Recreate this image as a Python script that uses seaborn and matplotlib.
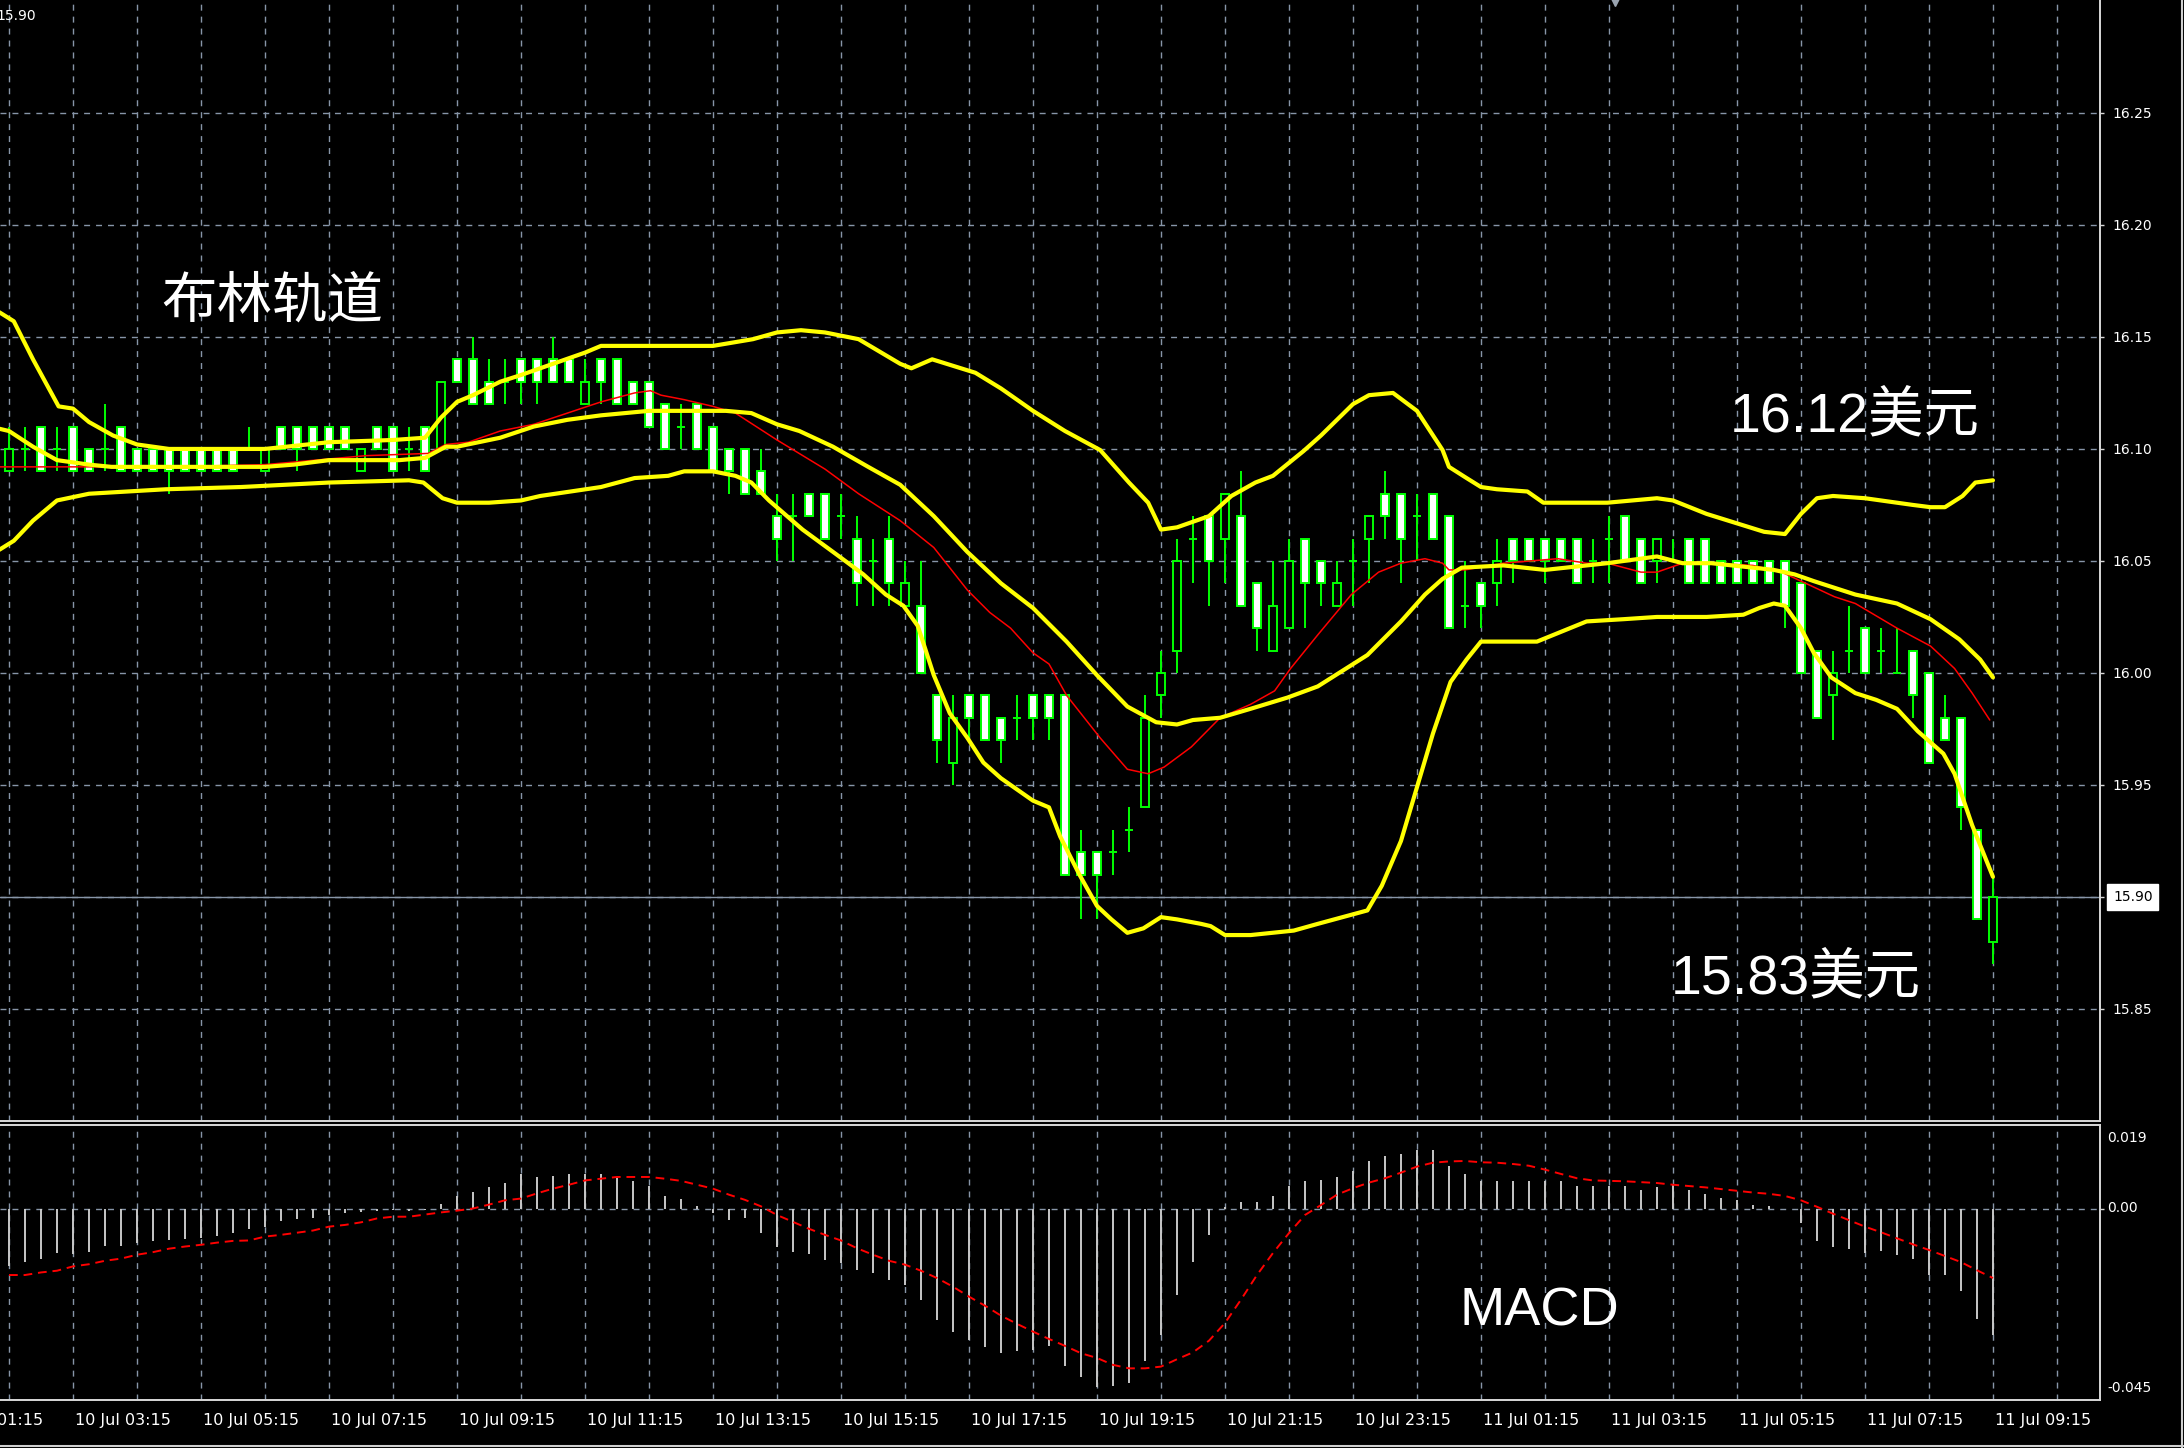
import numpy as np
import matplotlib
matplotlib.use("Agg")
import matplotlib.pyplot as plt
import matplotlib.transforms as mtransforms
from matplotlib.lines import Line2D
import seaborn as sns

sns.set_theme(style="dark", rc={"axes.facecolor": "black", "figure.facecolor": "black"})
plt.rcParams["font.family"] = ["DejaVu Sans"]

# XAGUSD M15 candles, 10 Jul 02:15 -> 11 Jul 09:15 (one entry per bar)
opens = [16.09, 16.10, 16.11, 16.10, 16.11, 16.10, 16.10, 16.11, 16.10, 16.10,
         16.10, 16.10, 16.10, 16.10, 16.10, 16.10, 16.09, 16.11, 16.11, 16.11,
         16.11, 16.11, 16.09, 16.11, 16.11, 16.10, 16.11, 16.10, 16.14, 16.14,
         16.13, 16.13, 16.14, 16.14, 16.14, 16.14, 16.12, 16.14, 16.14, 16.13,
         16.13, 16.12, 16.11, 16.12, 16.11, 16.10, 16.10, 16.09, 16.07, 16.07,
         16.08, 16.08, 16.07, 16.06, 16.05, 16.06, 16.03, 16.03, 15.99, 15.96,
         15.99, 15.99, 15.98, 15.98, 15.99, 15.99, 15.99, 15.92, 15.92, 15.92,
         15.93, 15.94, 15.99, 16.01, 16.06, 16.07, 16.06, 16.07, 16.04, 16.01,
         16.02, 16.06, 16.05, 16.03, 16.05, 16.06, 16.08, 16.08, 16.07, 16.08,
         16.07, 16.03, 16.04, 16.04, 16.06, 16.06, 16.06, 16.06, 16.06, 16.05,
         16.06, 16.07, 16.06, 16.05, 16.05, 16.06, 16.06, 16.05, 16.05, 16.05,
         16.05, 16.05, 16.04, 16.01, 15.99, 16.01, 16.02, 16.01, 16.00, 16.01,
         16.00, 15.98, 15.98, 15.93, 15.88]
highs = [16.11, 16.11, 16.11, 16.11, 16.11, 16.10, 16.12, 16.11, 16.10, 16.10,
         16.10, 16.10, 16.10, 16.10, 16.10, 16.11, 16.10, 16.11, 16.11, 16.11,
         16.11, 16.11, 16.10, 16.11, 16.11, 16.11, 16.11, 16.13, 16.14, 16.15,
         16.14, 16.14, 16.14, 16.14, 16.15, 16.14, 16.14, 16.14, 16.14, 16.13,
         16.13, 16.12, 16.12, 16.12, 16.11, 16.10, 16.10, 16.10, 16.08, 16.08,
         16.08, 16.08, 16.08, 16.07, 16.06, 16.07, 16.05, 16.05, 15.99, 15.99,
         15.99, 15.99, 15.98, 15.99, 15.99, 15.99, 15.99, 15.93, 15.92, 15.93,
         15.94, 15.99, 16.01, 16.06, 16.07, 16.07, 16.08, 16.09, 16.04, 16.05,
         16.06, 16.06, 16.05, 16.05, 16.06, 16.07, 16.09, 16.08, 16.08, 16.08,
         16.07, 16.05, 16.04, 16.06, 16.06, 16.06, 16.06, 16.06, 16.06, 16.06,
         16.07, 16.07, 16.06, 16.06, 16.06, 16.06, 16.06, 16.05, 16.05, 16.05,
         16.05, 16.05, 16.04, 16.01, 16.01, 16.03, 16.02, 16.02, 16.02, 16.01,
         16.00, 15.99, 15.98, 15.93, 15.91]
lows = [16.09, 16.09, 16.09, 16.09, 16.09, 16.09, 16.09, 16.09, 16.09, 16.09,
        16.08, 16.09, 16.09, 16.09, 16.09, 16.10, 16.09, 16.10, 16.09, 16.10,
        16.10, 16.10, 16.09, 16.10, 16.09, 16.09, 16.09, 16.10, 16.13, 16.12,
        16.12, 16.12, 16.12, 16.12, 16.13, 16.13, 16.12, 16.12, 16.12, 16.12,
        16.11, 16.10, 16.10, 16.10, 16.09, 16.08, 16.08, 16.08, 16.05, 16.05,
        16.07, 16.06, 16.06, 16.03, 16.03, 16.03, 16.03, 16.00, 15.96, 15.95,
        15.97, 15.97, 15.96, 15.97, 15.97, 15.97, 15.91, 15.89, 15.89, 15.91,
        15.92, 15.94, 15.98, 16.00, 16.04, 16.03, 16.04, 16.03, 16.01, 16.01,
        16.02, 16.02, 16.03, 16.03, 16.03, 16.04, 16.06, 16.04, 16.05, 16.06,
        16.02, 16.02, 16.02, 16.03, 16.04, 16.05, 16.04, 16.05, 16.04, 16.04,
        16.04, 16.05, 16.04, 16.04, 16.05, 16.04, 16.04, 16.04, 16.04, 16.04,
        16.04, 16.02, 16.00, 15.98, 15.97, 16.00, 16.00, 16.00, 16.00, 15.98,
        15.96, 15.97, 15.93, 15.89, 15.87]
closes = [16.10, 16.10, 16.09, 16.10, 16.09, 16.09, 16.10, 16.09, 16.09, 16.09,
          16.09, 16.09, 16.09, 16.09, 16.09, 16.10, 16.10, 16.10, 16.10, 16.10,
          16.10, 16.10, 16.10, 16.10, 16.09, 16.10, 16.09, 16.13, 16.13, 16.12,
          16.12, 16.13, 16.13, 16.13, 16.13, 16.13, 16.13, 16.13, 16.12, 16.12,
          16.11, 16.10, 16.11, 16.10, 16.09, 16.09, 16.08, 16.08, 16.06, 16.07,
          16.07, 16.06, 16.07, 16.04, 16.05, 16.04, 16.04, 16.00, 15.97, 15.98,
          15.98, 15.97, 15.97, 15.98, 15.98, 15.98, 15.91, 15.91, 15.91, 15.92,
          15.93, 15.98, 16.00, 16.05, 16.06, 16.05, 16.08, 16.03, 16.02, 16.03,
          16.05, 16.04, 16.04, 16.04, 16.05, 16.07, 16.07, 16.06, 16.07, 16.06,
          16.02, 16.03, 16.03, 16.05, 16.05, 16.05, 16.05, 16.05, 16.04, 16.05,
          16.06, 16.05, 16.04, 16.06, 16.05, 16.04, 16.04, 16.04, 16.04, 16.04,
          16.04, 16.03, 16.00, 15.98, 16.00, 16.01, 16.00, 16.01, 16.00, 15.99,
          15.96, 15.97, 15.94, 15.89, 15.90]

# Bollinger bands and red moving average, read as (bar, price)
bb_upper = [(-0.6, 16.161), (0.3, 16.157), (1.5, 16.140), (3.1, 16.119), (4, 16.118), (5, 16.112),
            (6.5, 16.106), (8, 16.102), (10, 16.100), (16, 16.100), (20, 16.103), (24, 16.104),
            (26, 16.105), (27, 16.114), (28, 16.121), (29, 16.124), (30.7, 16.130), (32, 16.133),
            (34, 16.138), (36, 16.143), (37, 16.146), (40, 16.146), (44, 16.146), (46.5, 16.149),
            (48, 16.152), (49.5, 16.153), (51, 16.152), (53.1, 16.149), (55.7, 16.138), (56.4, 16.136),
            (57.7, 16.140), (60.4, 16.134), (62, 16.127), (64, 16.117), (66, 16.108), (68.2, 16.0995),
            (70, 16.085), (71.2, 16.076), (72, 16.064), (73, 16.065), (75, 16.070), (76.4, 16.079),
            (77.9, 16.085), (79, 16.088), (80.9, 16.099), (82, 16.106), (83, 16.113), (84, 16.120),
            (85, 16.124), (86.5, 16.125), (88, 16.117), (89.6, 16.0995), (90, 16.092), (91.1, 16.087),
            (92, 16.083), (93, 16.082), (94.9, 16.081), (95.9, 16.076), (97, 16.076), (99.9, 16.076),
            (103, 16.078), (104, 16.077), (106.1, 16.071), (107.9, 16.067), (109.7, 16.063), (111, 16.062),
            (112, 16.071), (113, 16.078), (114, 16.079), (116, 16.078), (118, 16.076), (119, 16.075),
            (120.1, 16.074), (121, 16.074), (122.1, 16.079), (122.9, 16.085), (124, 16.086)]
bb_middle = [(-0.6, 16.109), (0, 16.108), (1.5, 16.101), (3, 16.095), (5, 16.093), (6.4, 16.092),
             (10, 16.092), (16, 16.092), (17.8, 16.093), (20, 16.095), (24.4, 16.095), (26, 16.096),
             (27.3, 16.101), (28, 16.101), (30.7, 16.105), (32.8, 16.110), (34.9, 16.113), (37, 16.115),
             (40, 16.117), (44.8, 16.117), (46.4, 16.116), (48, 16.111), (49.4, 16.108), (51.5, 16.101),
             (53.7, 16.092), (55.7, 16.084), (57.8, 16.070), (59.9, 16.054), (62, 16.040), (64, 16.029),
             (66.1, 16.014), (68, 15.999), (69.9, 15.985), (71.7, 15.978), (73, 15.977), (74, 15.979),
             (75.7, 15.980), (77.6, 15.984), (79.9, 15.989), (81.8, 15.994), (84.9, 16.008), (87, 16.023),
             (88.5, 16.035), (89.6, 16.042), (90.8, 16.047), (93.4, 16.048), (96, 16.046), (97.3, 16.047),
             (99.9, 16.049), (103, 16.052), (104.6, 16.049), (106.4, 16.049), (110.3, 16.046), (111.6, 16.044),
             (112.8, 16.041), (115.4, 16.035), (118, 16.031), (120.1, 16.024), (121.9, 16.015), (123.2, 16.006),
             (124, 15.998)]
bb_lower = [(-0.6, 16.055), (0.3, 16.059), (1.5, 16.068), (3, 16.077), (5, 16.080), (9.8, 16.082),
            (14.5, 16.083), (20, 16.085), (25, 16.086), (25.9, 16.085), (27.1, 16.078), (28, 16.076),
            (30, 16.076), (32, 16.077), (33.2, 16.079), (37, 16.083), (39.1, 16.087), (41.2, 16.088),
            (42.2, 16.090), (44, 16.090), (45.4, 16.088), (46.4, 16.085), (47.5, 16.077), (49.6, 16.064),
            (51.7, 16.053), (53.4, 16.044), (54.8, 16.035), (55.9, 16.030), (56.8, 16.021), (57.8, 15.999),
            (58.8, 15.982), (59.9, 15.971), (60.9, 15.960), (62, 15.953), (64, 15.943), (65, 15.940),
            (65.7, 15.927), (66.9, 15.910), (68, 15.896), (68.9, 15.890), (69.9, 15.884), (70.9, 15.886),
            (72, 15.891), (73, 15.890), (74.5, 15.888), (75.1, 15.887), (76, 15.883), (77.6, 15.883),
            (80.3, 15.885), (81.8, 15.888), (84.9, 15.894), (85.8, 15.905), (87, 15.925), (88, 15.949),
            (89, 15.973), (90.1, 15.996), (91.1, 16.006), (92, 16.014), (95.5, 16.014), (98.6, 16.023),
            (100.9, 16.024), (103, 16.025), (106.1, 16.025), (108.4, 16.026), (109.4, 16.029), (110.3, 16.031),
            (111, 16.030), (112, 16.020), (112.8, 16.009), (113.9, 15.998), (115.4, 15.991), (116.7, 15.988),
            (118, 15.984), (119.3, 15.974), (120.9, 15.964), (121.6, 15.955), (122.7, 15.932), (124, 15.909)]
ma_red = [(-0.6, 16.092), (5, 16.092), (10, 16.092), (16, 16.093), (22.3, 16.097), (26.2, 16.098),
          (27.3, 16.102), (28.7, 16.103), (30.7, 16.108), (32.8, 16.111), (34.9, 16.116), (37, 16.121),
          (39.1, 16.125), (40.1, 16.126), (40.75, 16.124), (42.2, 16.122), (44, 16.119), (45.4, 16.116),
          (48, 16.104), (51, 16.091), (53.1, 16.080), (55.7, 16.068), (57.8, 16.056), (59.9, 16.037),
          (61.3, 16.027), (62.6, 16.020), (64, 16.009), (65, 16.004), (66.1, 15.990), (68.2, 15.971),
          (69.9, 15.957), (71.2, 15.955), (72.2, 15.958), (73.9, 15.967), (75.7, 15.980), (77.6, 15.986),
          (79.1, 15.992), (80.1, 16.002), (81.8, 16.017), (83.9, 16.035), (85.6, 16.045), (87, 16.049),
          (88.5, 16.051), (89.6, 16.049), (90, 16.046), (91, 16.046), (93.4, 16.049), (96.8, 16.051),
          (98.6, 16.049), (99.9, 16.049), (102, 16.045), (103, 16.045), (104.6, 16.049), (106.4, 16.049),
          (109, 16.048), (110.8, 16.045), (112.3, 16.040), (114.1, 16.034), (115.4, 16.031), (118, 16.020),
          (120.1, 16.012), (121.6, 16.002), (122.7, 15.991), (123.8, 15.979)]

# MACD histogram and signal line, one value per bar
macd_hist = [-0.0134, -0.0123, -0.0117, -0.0103, -0.0105, -0.0100, -0.0086, -0.0086, -0.0080, -0.0076,
             -0.0073, -0.0071, -0.0069, -0.0063, -0.0057, -0.0048, -0.0043, -0.0030, -0.0025, -0.0021,
             -0.0015, -0.0011, -0.0007, -0.0005, -0.0003, -0.0005, -0.0003, 0.0011, 0.0029, 0.0039,
             0.0049, 0.0059, 0.0080, 0.0072, 0.0076, 0.0080, 0.0080, 0.0080, 0.0070, 0.0063,
             0.0051, 0.0029, 0.0022, 0.0006, -0.0011, -0.0026, -0.0022, -0.0057, -0.0088, -0.0100,
             -0.0105, -0.0119, -0.0127, -0.0142, -0.0150, -0.0165, -0.0177, -0.0211, -0.0258, -0.0285,
             -0.0304, -0.0321, -0.0335, -0.0331, -0.0327, -0.0318, -0.0364, -0.0390, -0.0414, -0.0412,
             -0.0403, -0.0354, -0.0292, -0.0200, -0.0123, -0.0061, 0.0003, 0.0016, 0.0016, 0.0029,
             0.0051, 0.0063, 0.0066, 0.0072, 0.0086, 0.0109, 0.0122, 0.0127, 0.0136, 0.0136,
             0.0099, 0.0080, 0.0063, 0.0063, 0.0063, 0.0063, 0.0063, 0.0063, 0.0052, 0.0052,
             0.0052, 0.0052, 0.0043, 0.0049, 0.0055, 0.0043, 0.0033, 0.0024, 0.0020, 0.0009,
             0.0005, -0.0001, -0.0033, -0.0076, -0.0090, -0.0093, -0.0103, -0.0099, -0.0108, -0.0117,
             -0.0153, -0.0154, -0.0191, -0.0255, -0.0293]
macd_signal = [-0.0154, -0.0154, -0.0148, -0.0144, -0.0134, -0.0129, -0.0121, -0.0116, -0.0107, -0.0101,
               -0.0093, -0.0088, -0.0084, -0.0079, -0.0075, -0.0074, -0.0065, -0.0061, -0.0056, -0.0051,
               -0.0042, -0.0038, -0.0032, -0.0023, -0.0019, -0.0019, -0.0014, -0.0009, -0.0005, 0.0000,
               0.0009, 0.0019, 0.0023, 0.0035, 0.0046, 0.0055, 0.0065, 0.0069, 0.0073, 0.0073,
               0.0073, 0.0069, 0.0064, 0.0055, 0.0046, 0.0032, 0.0020, 0.0005, -0.0015, -0.0031,
               -0.0047, -0.0061, -0.0074, -0.0092, -0.0107, -0.0121, -0.0130, -0.0144, -0.0161, -0.0181,
               -0.0204, -0.0225, -0.0248, -0.0267, -0.0285, -0.0302, -0.0318, -0.0335, -0.0346, -0.0362,
               -0.0370, -0.0370, -0.0366, -0.0349, -0.0333, -0.0306, -0.0265, -0.0211, -0.0154, -0.0103,
               -0.0057, -0.0015, 0.0008, 0.0032, 0.0047, 0.0060, 0.0070, 0.0083, 0.0097, 0.0106,
               0.0109, 0.0110, 0.0107, 0.0106, 0.0103, 0.0099, 0.0090, 0.0080, 0.0070, 0.0065,
               0.0064, 0.0063, 0.0061, 0.0059, 0.0055, 0.0052, 0.0049, 0.0045, 0.0041, 0.0037,
               0.0034, 0.0029, 0.0019, 0.0004, -0.0012, -0.0027, -0.0042, -0.0055, -0.0069, -0.0083,
               -0.0096, -0.0110, -0.0124, -0.0143, -0.0161]

price_ticks = [15.85, 15.90, 15.95, 16.00, 16.05, 16.10, 16.15, 16.20, 16.25]
last_price = 15.90
time_labels = ["10 Jul 01:15", "10 Jul 03:15", "10 Jul 05:15", "10 Jul 07:15", "10 Jul 09:15",
               "10 Jul 11:15", "10 Jul 13:15", "10 Jul 15:15", "10 Jul 17:15", "10 Jul 19:15",
               "10 Jul 21:15", "10 Jul 23:15", "11 Jul 01:15", "11 Jul 03:15", "11 Jul 05:15",
               "11 Jul 07:15", "11 Jul 09:15"]

W, H = 2184, 1448
GREEN, YELLOW, FRAME, GRID = "#00ff00", "#ffff00", "#d8d8d8", "#8795a8"
grid_kw = dict(color=GRID, lw=1.0, linestyle=(0, (4.3, 4.3)), zorder=1)

fig = plt.figure(figsize=(W / 100, H / 100), dpi=100, facecolor="black")
ax = fig.add_axes([0, 1 - 1121 / H, 2100 / W, 1121 / H])
axm = fig.add_axes([0, 1 - 1400 / H, 2100 / W, 275 / H])

x = np.arange(len(opens))
o, hi, lo, c = (np.array(v) for v in (opens, highs, lows, closes))
xlim = (-0.5625, 130.69)

# ---- price panel ----
ax.set_facecolor("black")
ax.set_xlim(*xlim)
ax.set_ylim(15.80, 16.3004)
for gx in range(0, 131, 4):
    ax.axvline(gx, **grid_kw)
for gy in price_ticks:
    ax.axhline(gy, **grid_kw)
ax.axhline(last_price, color=GRID, lw=1.0, zorder=1.5)

ax.vlines(x, lo, hi, color=GREEN, lw=1.4, zorder=3)
bear = c < o - 1e-9
bull = c > o + 1e-9
doji = ~(bear | bull)
ax.bar(x[bear], (o - c)[bear], bottom=c[bear], width=0.45, color="white",
       edgecolor=GREEN, linewidth=1.4, zorder=4)
ax.bar(x[bull], (c - o)[bull], bottom=o[bull], width=0.45, color="black",
       edgecolor=GREEN, linewidth=1.4, zorder=4)
ax.hlines(o[doji], x[doji] - 0.25, x[doji] + 0.25, color=GREEN, lw=1.4, zorder=4)

for band in (bb_upper, bb_middle, bb_lower):
    bx, by = zip(*band)
    sns.lineplot(x=list(bx), y=list(by), ax=ax, color=YELLOW, lw=3.0, zorder=6)
rx, ry = zip(*ma_red)
sns.lineplot(x=list(rx), y=list(ry), ax=ax, color="#ff0000", lw=1.1, zorder=5)

ax.yaxis.tick_right()
ax.set_yticks(price_ticks)
ax.set_yticklabels(["" if t == last_price else f"{t:.2f}" for t in price_ticks])
ax.tick_params(axis="y", labelcolor="white", color=FRAME, labelsize=10,
               length=3, width=1, pad=6, direction="out")
ax.set_xticks([])
ax.set_xlabel("")
ax.set_ylabel("")
for side in ("left", "top"):
    ax.spines[side].set_visible(False)
for side in ("bottom", "right"):
    ax.spines[side].set_color(FRAME)
    ax.spines[side].set_linewidth(1.4)

ax.text(1.0062, last_price, f"{last_price:.2f}",
        transform=mtransforms.blended_transform_factory(ax.transAxes, ax.transData),
        color="black", fontsize=10, va="center", ha="left", clip_on=False,
        bbox=dict(boxstyle="square,pad=0.4", facecolor="white", edgecolor="white"))
ax.plot([100.4], [16.3004], marker="v", ms=9, color="#9aa4b0", clip_on=False, zorder=8)

# ---- MACD panel ----
axm.set_facecolor("black")
axm.set_xlim(*xlim)
axm.set_ylim(-0.04433, 0.01933)
for gx in range(0, 131, 4):
    axm.axvline(gx, **grid_kw)
axm.axhline(0, **grid_kw)
axm.vlines(x, 0, macd_hist, color="#c8c8c8", lw=1.4, zorder=3)
sns.lineplot(x=x, y=macd_signal, ax=axm, color="#ff0000", lw=1.4,
             linestyle=(0, (4.5, 3)), zorder=4)

axm.set_yticks([0])
axm.set_yticklabels([""])
axm.yaxis.tick_right()
axm.tick_params(axis="y", color=FRAME, length=3, width=1, direction="out")
label_pos = [-4 + 8 * k for k in range(len(time_labels))]
axm.set_xticks([p for p in label_pos if p >= 0])
axm.set_xticklabels([])
axm.tick_params(axis="x", color=FRAME, length=3, width=1, direction="out")
axm.set_xlabel("")
axm.set_ylabel("")
axm.spines["left"].set_visible(False)
for side in ("top", "bottom", "right"):
    axm.spines[side].set_color(FRAME)
    axm.spines[side].set_linewidth(1.4)

btrans = mtransforms.blended_transform_factory(axm.transData, axm.transAxes)
for p, lab in zip(label_pos, time_labels):
    axm.text(p + 0.1, -0.076, lab, transform=btrans, color="white", fontsize=11.5,
             ha="left", va="center", clip_on=False)
for val, yax in (("0.019", 0.952), ("0.00", 0.698), ("-0.045", 0.044)):
    axm.text(1.0035, yax, val, transform=axm.transAxes, color="white", fontsize=10,
             ha="left", va="center", clip_on=False)

# ---- annotations ----
fig.text(-4 / W, 1 - 16 / H, "15.90", color="white", fontsize=10, ha="left", va="center")
fig.text(161 / W, 1 - 302 / H, "布林轨道", color="white", fontsize=40,
         family=["Noto Sans CJK SC"], ha="left", va="center")
fig.text(1730 / W, 1 - 431 / H, "16.12美元", color="white", fontsize=40,
         family=["Liberation Sans", "Noto Sans CJK SC"], ha="left", va="baseline")
fig.text(1671 / W, 1 - 993 / H, "15.83美元", color="white", fontsize=40,
         family=["Liberation Sans", "Noto Sans CJK SC"], ha="left", va="baseline")
fig.text(1459 / W, 1 - 1325 / H, "MACD", color="white", fontsize=39,
         family=["Liberation Sans"], ha="left", va="baseline")

# window edges
fig.add_artist(Line2D([0, 1], [1 - 1446 / H] * 2, color="#d0d0d0", lw=1.5))
fig.add_artist(Line2D([2182 / W] * 2, [0, 1], color="#d0d0d0", lw=1.5))

fig.savefig("out.png", dpi=100, facecolor="black")
